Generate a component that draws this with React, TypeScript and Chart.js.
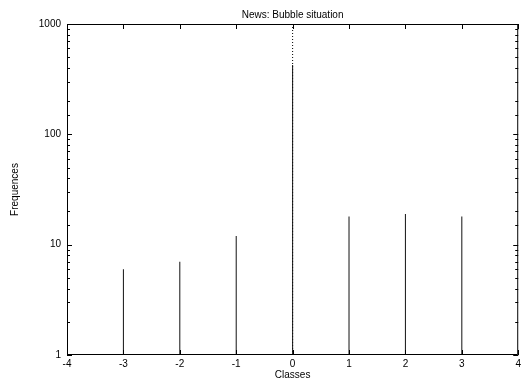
import React, { useEffect, useRef } from "react";
import { Chart, registerables } from "chart.js";

Chart.register(...registerables);

const classes = [-3, -2, -1, 0, 1, 2, 3];
const frequencies = [6, 7, 12, 425, 18, 19, 18];
const yTickLabels = [1, 10, 100, 1000];
const xMin = -4;
const xMax = 4;
const titleText = "News: Bubble situation";
const xTitle = "Classes";
const yTitle = "Frequences";

const FONT = "'Liberation Sans', Arial, Helvetica, sans-serif";

const framePlugin = {
  id: "gnuFrame",
  afterDatasetsDraw(chart: any) {
    const { ctx, chartArea } = chart;
    const { left, right, top, bottom } = chartArea;
    const xs = chart.scales.x;
    const ys = chart.scales.y;
    ctx.save();
    ctx.strokeStyle = "#000";
    ctx.lineWidth = 1;
    ctx.beginPath();
    ctx.rect(left + 0.5, top + 0.5, right - left - 1, bottom - top - 1);
    xs.ticks.forEach((t: any) => {
      const px = Math.round(xs.getPixelForValue(t.value)) + 0.5;
      ctx.moveTo(px, bottom);
      ctx.lineTo(px, bottom - 5);
      ctx.moveTo(px, top);
      ctx.lineTo(px, top + 5);
    });
    ys.ticks.forEach((t: any) => {
      const v = t.value;
      const major = yTickLabels.includes(v);
      const len = major ? 5 : 3;
      const py = Math.round(ys.getPixelForValue(v)) + 0.5;
      ctx.moveTo(left, py);
      ctx.lineTo(left + len, py);
      ctx.moveTo(right, py);
      ctx.lineTo(right - len, py);
    });
    ctx.stroke();
    ctx.restore();
  },
};

export default function App() {
  const ref = useRef<HTMLCanvasElement | null>(null);
  useEffect(() => {
    if (!ref.current) return;
    const chart = new Chart(ref.current, {
      type: "bar",
      data: {
        datasets: [
          {
            type: "bar",
            data: classes.map((c, i) => ({ x: c, y: frequencies[i] })),
            backgroundColor: "#111",
            borderWidth: 0,
            barThickness: 1,
            inflateAmount: 0,
            order: 1,
          } as any,
          {
            type: "line",
            data: [
              { x: 0, y: yTickLabels[0] },
              { x: 0, y: yTickLabels[yTickLabels.length - 1] },
            ],
            borderColor: "#000",
            borderWidth: 1,
            borderDash: [1, 2],
            pointRadius: 0,
            order: 2,
          } as any,
        ],
      },
      options: {
        animation: false,
        responsive: false,
        maintainAspectRatio: false,
        layout: { padding: { left: 0, right: 4, top: 0, bottom: 0 } },
        plugins: {
          legend: { display: false },
          tooltip: { enabled: false },
          title: {
            display: true,
            text: titleText,
            fullSize: false,
            color: "#000",
            font: { family: FONT, size: 10, weight: "normal" },
            padding: { top: 9, bottom: 3 },
          },
        },
        scales: {
          x: {
            type: "linear",
            min: xMin,
            max: xMax,
            offset: false,
            grid: { display: false, drawTicks: false },
            border: { display: false },
            ticks: {
              stepSize: 1,
              padding: 3,
              color: "#000",
              autoSkip: false,
              maxRotation: 0,
              font: { family: FONT, size: 10 },
            },
            title: {
              display: true,
              text: xTitle,
              color: "#000",
              font: { family: FONT, size: 10 },
              padding: { top: 0, bottom: 0 },
            },
            afterFit: (s: any) => {
              s.height = 26;
            },
          },
          y: {
            type: "logarithmic",
            min: 1,
            max: 1000,
            grid: { display: false, drawTicks: false },
            border: { display: false },
            ticks: {
              padding: 6,
              color: "#000",
              autoSkip: false,
              font: { family: FONT, size: 10 },
              callback: (value: any) =>
                yTickLabels.includes(Number(value)) ? String(Number(value)) : "",
            },
            title: {
              display: true,
              text: yTitle,
              color: "#000",
              font: { family: FONT, size: 10 },
              padding: { top: 9, bottom: 0 },
            },
            afterFit: (s: any) => {
              s.width = 67;
            },
          },
        },
      } as any,
      plugins: [framePlugin],
    });
    return () => chart.destroy();
  }, []);
  return (
    <div style={{ position: "absolute", left: 0, top: 0, width: 524, height: 381, background: "#fff" }}>
      <canvas ref={ref} width={524} height={381} style={{ display: "block" }} />
    </div>
  );
}
